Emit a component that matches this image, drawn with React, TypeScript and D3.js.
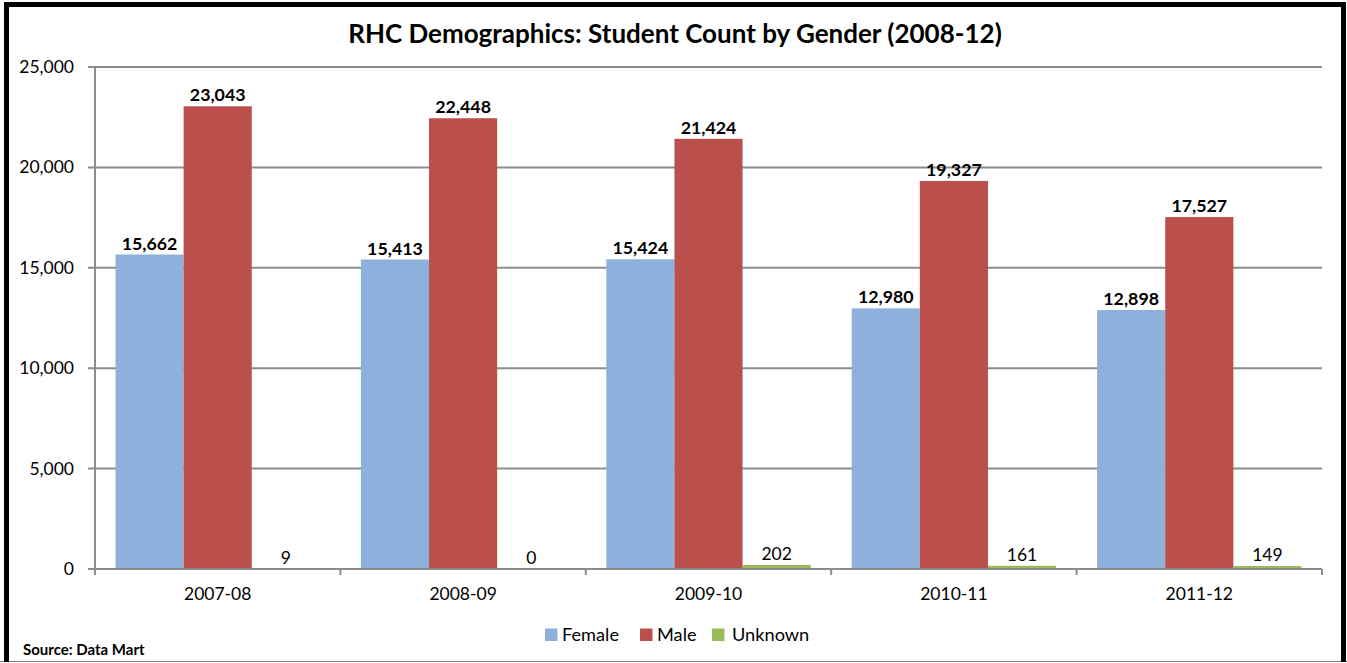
import React from "react";
import * as d3 from "d3";

const years = ["2007-08", "2008-09", "2009-10", "2010-11", "2011-12"];
const seriesNames = ["Female", "Male", "Unknown"];
const female = [15662, 15413, 15424, 12980, 12898];
const male = [23043, 22448, 21424, 19327, 17527];
const unknown = [9, 0, 202, 161, 149];
const yTicks = [0, 5000, 10000, 15000, 20000, 25000];
const colors = ["#8EB0DC", "#BA4F4C", "#9BBB59"];

const W = 1347;
const H = 663;
const FONT = "Lato, 'Open Sans', sans-serif";

export default function App() {
  const left = 95;
  const right = 1322;
  const top = 67;
  const bottom = 569;

  const x = d3.scaleBand<string>().domain(years).range([left, right]).padding(0);
  const bw = x.bandwidth();
  const gap = 41;
  const inner = d3
    .scaleBand<string>()
    .domain(seriesNames)
    .range([gap / 2, bw - gap / 2])
    .padding(0);
  const y = d3.scaleLinear().domain([0, 25000]).range([bottom, top]);
  const fmt = d3.format(",");

  const series = [female, male, unknown];
  const boundaries = d3.range(years.length + 1).map((i) => left + i * bw);

  const legendItems = [
    { name: "Female", x: 545, textX: 562 },
    { name: "Male", x: 640, textX: 657 },
    { name: "Unknown", x: 712, textX: 732 },
  ];

  return (
    <div style={{ position: "fixed", left: 0, top: 0 }}>
      <svg width={W} height={H} style={{ display: "block", background: "#fff" }}>
        {/* frame */}
        <line x1={0} x2={W} y1={661.5} y2={661.5} stroke="#888" strokeWidth={1} />
        <rect x={4} y={2} width={W - 6} height={5} fill="#000" />
        <rect x={4} y={2} width={5} height={660} fill="#000" />
        <rect x={1341} y={2} width={5} height={660} fill="#000" />

        <text
          x={675}
          y={43}
          textAnchor="middle"
          fontFamily={FONT}
          fontWeight="bold"
          fontSize={26}
          fill="#000"
        >
          RHC Demographics: Student Count by Gender (2008-12)
        </text>

        {/* gridlines */}
        {yTicks.map((t) => (
          <line
            key={t}
            x1={left - 7}
            x2={right}
            y1={y(t)}
            y2={y(t)}
            stroke="#8C8C8C"
            strokeWidth={2}
          />
        ))}
        {yTicks.map((t) => (
          <text
            key={"l" + t}
            x={74}
            y={y(t) + 6}
            textAnchor="end"
            fontFamily={FONT}
            fontSize={17.5}
            fill="#000"
          >
            {fmt(t)}
          </text>
        ))}

        {/* bars */}
        {series.map((vals, si) =>
          vals.map((v, i) => {
            const bx = (x(years[i]) as number) + (inner(seriesNames[si]) as number);
            const by = y(v);
            return (
              <rect
                key={si + "-" + i}
                x={bx}
                y={by}
                width={inner.bandwidth()}
                height={bottom - by}
                fill={colors[si]}
              />
            );
          })
        )}

        {/* axes */}
        <line x1={left} x2={left} y1={top} y2={bottom + 6} stroke="#8C8C8C" strokeWidth={2} />
        <line x1={left - 7} x2={right} y1={bottom} y2={bottom} stroke="#8C8C8C" strokeWidth={2} />
        {boundaries.map((bx, i) => (
          <line
            key={"t" + i}
            x1={bx}
            x2={bx}
            y1={bottom}
            y2={bottom + 6}
            stroke="#8C8C8C"
            strokeWidth={2}
          />
        ))}

        {/* value labels */}
        {series.map((vals, si) =>
          vals.map((v, i) => {
            const cx =
              (x(years[i]) as number) + (inner(seriesNames[si]) as number) + inner.bandwidth() / 2;
            return (
              <text
                key={"v" + si + "-" + i}
                x={cx}
                y={y(v) - 5}
                textAnchor="middle"
                fontFamily={FONT}
                fontWeight={si < 2 ? "bold" : "normal"}
                fontSize={si < 2 ? 17.8 : 17.5}
                fill="#000"
              >
                {fmt(v)}
              </text>
            );
          })
        )}

        {/* category labels */}
        {years.map((yr) => (
          <text
            key={yr}
            x={(x(yr) as number) + bw / 2}
            y={600}
            textAnchor="middle"
            fontFamily={FONT}
            fontSize={17.5}
            fill="#000"
          >
            {yr}
          </text>
        ))}

        {/* legend */}
        {legendItems.map((it, i) => (
          <g key={it.name}>
            <rect x={it.x} y={628.5} width={12.5} height={12.5} fill={colors[i]} />
            <text x={it.textX} y={640.5} fontFamily={FONT} fontSize={18.2} fill="#000">
              {it.name}
            </text>
          </g>
        ))}

        <text x={23} y={655} fontFamily={FONT} fontWeight="bold" fontSize={15} fill="#000">
          Source: Data Mart
        </text>
      </svg>
    </div>
  );
}
